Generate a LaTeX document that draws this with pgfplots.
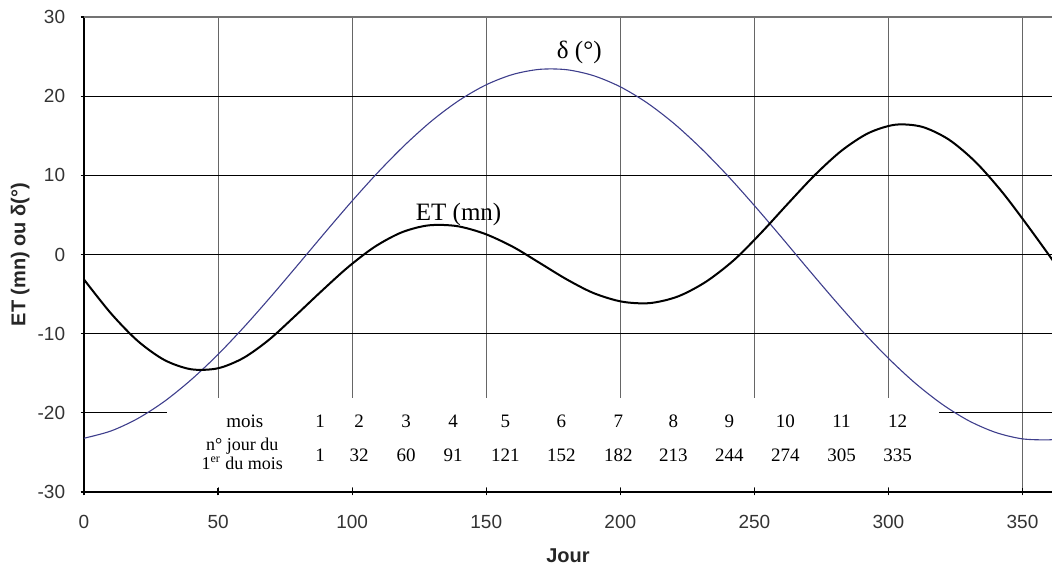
\documentclass[border=0pt]{standalone}
\usepackage{pgfplots}
\pgfplotsset{compat=1.18}
\usepackage{fontspec}
\setmainfont{Liberation Sans}
\newfontfamily\tnr{Liberation Serif}
\definecolor{decl}{RGB}{62,62,140}
\begin{document}
\begin{tikzpicture}
\begin{axis}[
  at={(0,0)}, anchor=south west,
  width=484pt, height=237.5pt, scale only axis,
  xmin=0, xmax=361, ymin=-30, ymax=30,
  axis lines=left, axis line style={line width=1pt, -},
  xtick={0,50,...,350}, ytick={-30,-20,...,30},
  xticklabels={0,50,100,150,200,250,300,350},
  yticklabels={-30,-20,-10,0,10,20,30},
  tick align=center, major tick length=3.5pt,
  tick style={black, line width=0.6pt},
  xmajorgrids, ymajorgrids,
  x grid style={black!60, line width=0.5pt},
  y grid style={black, line width=0.5pt},
  ticklabel style={font=\fontsize{9.5}{11}\selectfont, text=black!80},
  xticklabel style={inner sep=0pt, yshift=-9.5pt},
  yticklabel style={inner sep=0pt, anchor=east, xshift=-7.5pt},
  xlabel={Jour}, ylabel={ET (mn) ou δ(°)},
  label style={font=\bfseries\fontsize{10}{12}\selectfont, text=black!85},
  xlabel style={at={(axis description cs:0.5,-0.135)}, anchor=center},
  ylabel style={at={(axis description cs:-0.066,0.5)}, anchor=center},
  clip=true,
]
% gray top border
\addplot[black!55, line width=0.8pt] coordinates {(0,30) (361,30)};
% white box behind the table
\fill[white] (axis cs:31,-18.1) rectangle (axis cs:319,-29.4);

% declination
\addplot[decl, line width=0.55pt, smooth] coordinates {
(0,-23.21) (10,-22.30) (20,-20.73) (30,-18.55) (40,-15.81) (50,-12.62)
(60,-9.04) (70,-5.20) (80,-1.21) (90,2.82) (100,6.77) (110,10.51)
(120,13.94) (130,16.97) (140,19.49) (150,21.44) (160,22.75) (170,23.39)
(180,23.34) (190,22.59) (200,21.18) (210,19.15) (220,16.55) (230,13.45)
(240,9.97) (250,6.18) (260,2.22) (270,-1.82) (280,-5.79) (290,-9.60)
(300,-13.12) (310,-16.26) (320,-18.91) (330,-21.01) (340,-22.48)
(350,-23.29) (360,-23.41) (365,-23.21)
};
% equation of time
\addplot[black, line width=1pt, smooth] coordinates {
(0,-3.16) (10,-7.42) (20,-10.91) (30,-13.33) (40,-14.50) (50,-14.37)
(59.5,-13.06) (69,-10.77) (78.5,-7.84) (88.5,-4.65) (98.5,-1.59)
(108.5,0.99) (118.5,2.80) (128.5,3.68) (139,3.59) (149.5,2.61)
(160,0.96) (170,-1.08) (180,-3.14) (190,-4.87) (200.5,-5.95)
(211,-6.14) (221.5,-5.30) (232,-3.43) (242.5,-0.67) (252.5,2.73)
(262.5,6.42) (272.5,10.02) (282.5,13.11) (292.5,15.33) (302.5,16.39)
(312.5,16.13) (322.5,14.52) (332.5,11.68) (342.5,7.85) (352.5,3.37)
(362.5,-1.32)
};

% curve labels
\node[font=\tnr\fontsize{12.5}{14}\selectfont] at (axis cs:184.7,25.5) {δ (°)};
\node[font=\tnr\fontsize{12.5}{14}\selectfont] at (axis cs:139.7,5.1) {ET (mn)};

% table
\begin{scope}[every node/.style={font=\tnr\fontsize{9.5}{10}\selectfont, inner sep=0pt, anchor=base}]
\node at (axis cs:60,-21.9) {mois};
\node[font=\tnr\fontsize{9}{10}\selectfont] at (axis cs:59,-24.8) {n° jour du};
\node[font=\tnr\fontsize{9}{10}\selectfont] at (axis cs:59,-27.2) {1\textsuperscript{er} du mois};
\node at (axis cs:88.1,-21.9) {1};
\node at (axis cs:102.6,-21.9) {2};
\node at (axis cs:120.1,-21.9) {3};
\node at (axis cs:137.7,-21.9) {4};
\node at (axis cs:157.1,-21.9) {5};
\node at (axis cs:178.0,-21.9) {6};
\node at (axis cs:199.3,-21.9) {7};
\node at (axis cs:219.8,-21.9) {8};
\node at (axis cs:240.7,-21.9) {9};
\node at (axis cs:261.6,-21.9) {10};
\node at (axis cs:282.5,-21.9) {11};
\node at (axis cs:303.4,-21.9) {12};
\node at (axis cs:88.1,-26.1) {1};
\node at (axis cs:102.6,-26.1) {32};
\node at (axis cs:120.1,-26.1) {60};
\node at (axis cs:137.7,-26.1) {91};
\node at (axis cs:157.1,-26.1) {121};
\node at (axis cs:178.0,-26.1) {152};
\node at (axis cs:199.3,-26.1) {182};
\node at (axis cs:219.8,-26.1) {213};
\node at (axis cs:240.7,-26.1) {244};
\node at (axis cs:261.6,-26.1) {274};
\node at (axis cs:282.5,-26.1) {305};
\node at (axis cs:303.4,-26.1) {335};
\end{scope}
\end{axis}
\pgfresetboundingbox
\useasboundingbox (-42pt,-36.5pt) rectangle (484pt,246pt);
\end{tikzpicture}
\end{document}
